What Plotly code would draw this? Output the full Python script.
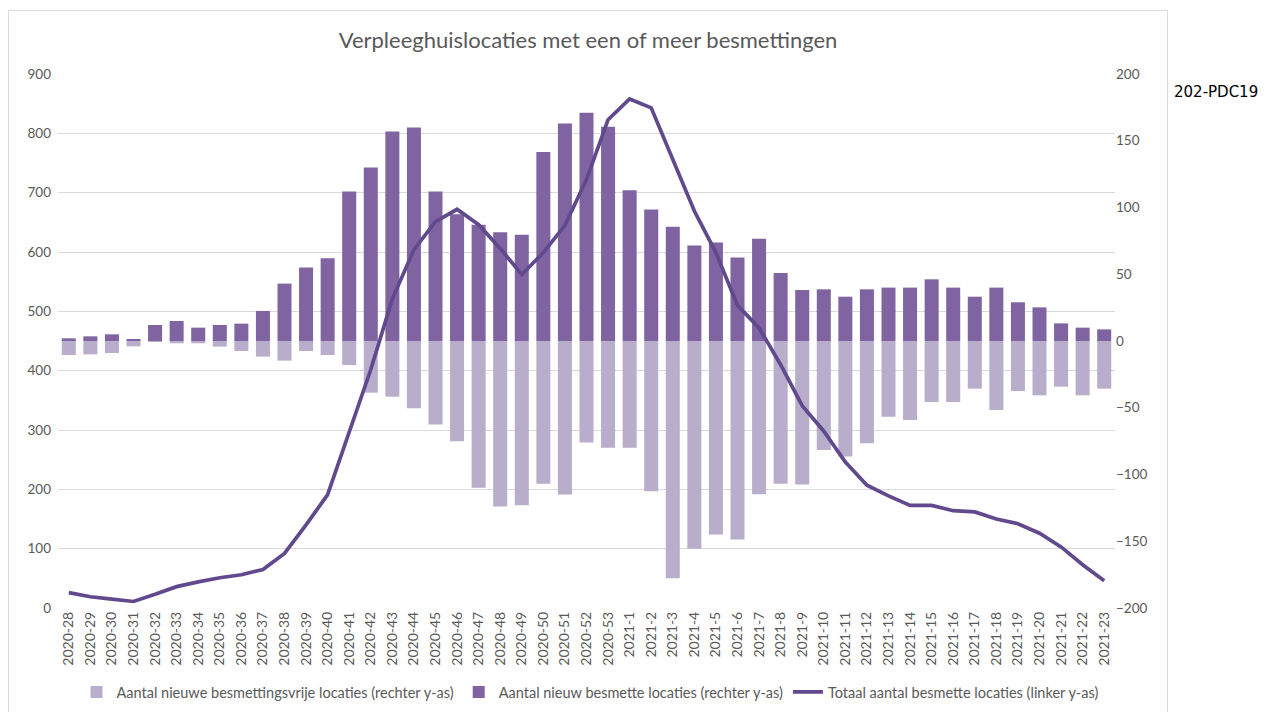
import plotly.graph_objects as go

weeks = [f"2020-{w}" for w in range(28, 54)] + [f"2021-{w}" for w in range(1, 24)]

# Aantal nieuw besmette locaties (rechter y-as)
new_infected = [2, 3.5, 5, 1, 12, 15, 10, 12, 13, 22.5, 43, 55, 62, 112, 130, 157, 160, 112, 95, 87,
                81.5, 79.5, 141.5, 163, 171, 160.5, 113, 98.5, 85.5, 71.5, 73.7, 62.5, 76.5, 51, 38.2,
                38.7, 33.2, 38.7, 40, 40, 46.2, 40, 33.2, 40, 29, 25.2, 13.2, 10, 8.7]

# Aantal nieuwe besmettingsvrije locaties (rechter y-as)
new_free = [-10.5, -10, -9, -4, -0.5, -1.7, -1.7, -4.2, -7.5, -11.7, -14.7, -7.5, -10.5, -18, -38.7,
            -41.7, -50.4, -62.5, -75, -110, -124, -123, -107, -115, -76, -80, -80, -112.6, -177.7,
            -155.6, -145, -148.6, -114.8, -107, -107.5, -81.7, -86.6, -76.6, -56.7, -59.2, -45.7,
            -45.7, -35.7, -51.7, -37.5, -40.7, -34.2, -40.7, -35.7]

# Totaal aantal besmette locaties (linker y-as)
total_infected = [26, 19, 15, 11, 23, 36, 44, 51, 56, 65, 92, 140, 191, 295, 402, 521, 604, 651, 672,
                  646, 606, 562, 599, 645, 722, 823, 858, 843, 755, 669, 599, 510, 472, 410, 341, 298,
                  246, 207, 189, 173, 173, 164, 162, 150, 142, 126, 103, 73, 46]

left_ticks = list(range(0, 901, 100))
right_ticks = list(range(-200, 201, 50))

FONT = "Lato"
GRAY = "#595959"
LIGHT = "#B8ADCB"
DARK = "#8064A2"
LINE = "#60498C"

fig = go.Figure()
fig.add_trace(go.Bar(x=weeks, y=new_free, name="Aantal nieuwe besmettingsvrije locaties (rechter y-as)",
                     marker=dict(color=LIGHT, line=dict(width=0)), yaxis="y"))
fig.add_trace(go.Bar(x=weeks, y=new_infected, name="Aantal nieuw besmette locaties (rechter y-as)",
                     marker=dict(color=DARK, line=dict(width=0)), yaxis="y"))
fig.add_trace(go.Scatter(x=weeks, y=total_infected, name="Totaal aantal besmette locaties (linker y-as)",
                         mode="lines", line=dict(color=LINE, width=3.7), yaxis="y2"))

OFF = 8  # page body margin
W, H = 1264, 704
L, T = 58 - OFF, 74 - OFF
R = W - (1115 - OFF)
B = H - (608 - OFF)
pw, ph = W - L - R, H - T - B

def px(x):
    return (x - OFF - L) / pw

def py(y):
    return (H - B - (y - OFF)) / ph

fig.update_layout(
    width=W, height=H,
    margin=dict(l=L, r=R, t=T, b=B, autoexpand=False),
    paper_bgcolor="white", plot_bgcolor="white",
    barmode="relative", bargap=0.35,
    font=dict(family=FONT, color=GRAY, size=13),
    title=dict(text="Verpleeghuislocaties met een of meer besmettingen",
               font=dict(family=FONT, size=22, color=GRAY),
               x=px(588), xanchor="center", xref="paper",
               y=1 - (40 - OFF) / H, yref="container", yanchor="middle"),
    xaxis=dict(type="category", tickangle=-90, tickfont=dict(size=14, color=GRAY),
               showgrid=False, showline=False, ticks="", zeroline=False),
    yaxis=dict(side="right", range=[-200, 200], tickvals=right_ticks, showgrid=False,
               zeroline=False, showline=False, ticks="", tickfont=dict(size=13.5, color=GRAY)),
    yaxis2=dict(side="left", overlaying="y", range=[0, 900], tickvals=left_ticks, showgrid=True,
                gridcolor="#D9D9D9", gridwidth=1, zeroline=False, showline=False, ticks="",
                ticklabelstandoff=6, tickfont=dict(size=13.5, color=GRAY)),
    legend=dict(orientation="h", x=px(590), xanchor="center", y=py(692), yanchor="middle",
                font=dict(size=14.5, color=GRAY), traceorder="normal", itemwidth=30,
                bgcolor="rgba(0,0,0,0)"),
    showlegend=True,
)

fig.add_shape(type="rect", xref="paper", yref="paper",
              x0=px(8.5), x1=px(1167.5), y0=py(720), y1=py(10.5),
              line=dict(color="#D9D9D9", width=1), fillcolor="rgba(0,0,0,0)", layer="below")

fig.add_annotation(text="202-PDC19", xref="paper", yref="paper", x=px(1172), y=py(92),
                   xanchor="left", yanchor="middle", showarrow=False,
                   font=dict(family="DejaVu Sans", size=15, color="#000000"))

fig.write_html("out.html")
